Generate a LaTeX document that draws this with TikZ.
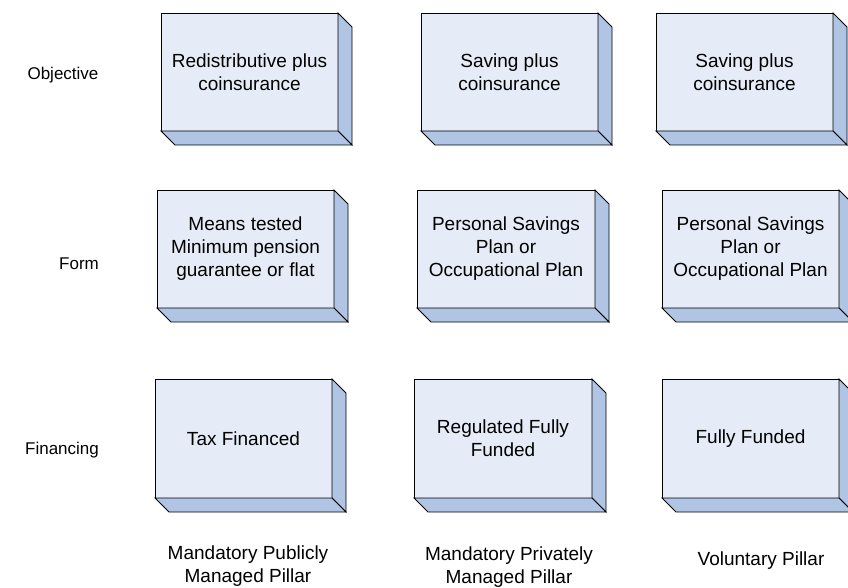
\documentclass[tikz,border=0pt]{standalone}
\usepackage{fontspec}
\setmainfont{Liberation Sans}
\usetikzlibrary{calc}
\definecolor{facefront}{RGB}{230,236,247}
\definecolor{faceside}{RGB}{176,196,228}
\tikzset{
  front/.style={draw=black, line width=0.9pt, fill=facefront, outer sep=0pt,
    inner sep=0pt, align=center, font=\fontsize{19}{23}\selectfont, text=black},
  side/.style={draw=black, line width=0.9pt, fill=faceside, line join=miter},
  lbl/.style={align=center, font=\fontsize{19}{23}\selectfont, inner sep=0pt},
  rowlbl/.style={align=center, font=\fontsize{17}{21}\selectfont, inner sep=0pt}
}
% #1 name, #2 left, #3 right, #4 top, #5 bottom, #6 text
\newcommand\pillarbox[6]{%
  \node[front, minimum width={#3-#2}, minimum height={#5-#4}]
    (#1) at ({(#2+#3)/2},{(#4+#5)/2}) {#6};
  \draw[side] (#1.north east) -- ($(#1.north east)+(14,14)$)
    -- ($(#1.south east)+(14,14)$) -- (#1.south east) -- cycle;
  \draw[side] (#1.south west) -- (#1.south east)
    -- ($(#1.south east)+(14,14)$) -- ($(#1.south west)+(14,14)$) -- cycle;
}
\begin{document}
\begin{tikzpicture}[x=1pt, y=-1pt]
  \useasboundingbox (0,0) rectangle (848,588);
  \clip (0,0) rectangle (848,588);

  % row labels
  \node[rowlbl] (objective) at (63,75) {Objective};
  \node[rowlbl] (form) at (79,264) {Form};
  \node[rowlbl] (financing) at (62,450) {Financing};

  % objective row
  \pillarbox{o1}{161}{338}{13}{131}{Redistributive plus\\coinsurance}
  \pillarbox{o2}{421}{598}{13}{131}{Saving plus\\coinsurance}
  \pillarbox{o3}{656}{833}{13}{131}{Saving plus\\coinsurance}

  % form row
  \pillarbox{f1}{157}{334}{190}{308}{Means tested\\Minimum pension\\guarantee or flat}
  \pillarbox{f2}{417}{595}{190}{308}{Personal Savings\\Plan or\\Occupational Plan}
  \pillarbox{f3}{662}{839}{190}{308}{Personal Savings\\Plan or\\Occupational Plan}

  % financing row
  \pillarbox{n1}{155}{332}{379}{498}{Tax Financed}
  \pillarbox{n2}{414}{592}{379}{498}{Regulated Fully\\Funded}
  \pillarbox{n3}{662}{839}{379}{498}{Fully Funded}

  % pillar captions
  \node[lbl] (p1) at (248,566) {Mandatory Publicly\\Managed Pillar};
  \node[lbl] (p2) at (509,567) {Mandatory Privately\\Managed Pillar};
  \node[lbl] (p3) at (761,561) {Voluntary Pillar};
\end{tikzpicture}
\end{document}
